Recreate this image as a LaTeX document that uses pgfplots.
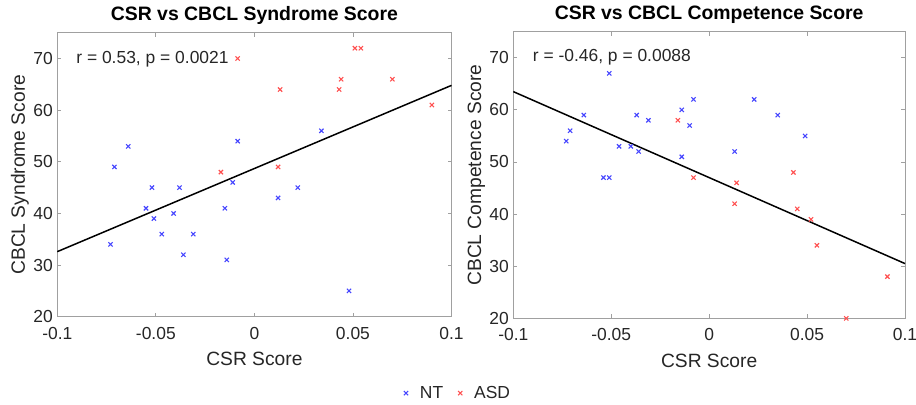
\documentclass[border=0pt]{standalone}
\usepackage{fontspec}
\setmainfont{Liberation Sans}
\usepackage{pgfplots}
\pgfplotsset{compat=1.18}
\definecolor{ntblue}{RGB}{70,70,255}
\definecolor{asdred}{RGB}{255,80,80}
\definecolor{axgray}{RGB}{160,160,160}
\definecolor{txt}{RGB}{38,38,38}
\pgfplotsset{
  csrpanel/.style={
    scale only axis, clip=false,
    xmin=-0.1, xmax=0.1, ymin=20, ymax=75,
    xtick={-0.1,-0.05,0,0.05,0.1},
    xticklabels={-0.1,-0.05,0,0.05,0.1},
    ytick={20,30,...,70},
    /pgf/number format/assume math mode=true,
    tick align=inside, major tick length=4bp,
    axis line style={color=axgray, line width=0.8bp},
    tick style={color=axgray, line width=0.8bp},
    tick label style={font=\fontsize{17.5}{20}\selectfont, color=txt},
    xticklabel style={yshift=-7bp},
    yticklabel style={xshift=-1bp},
    label style={font=\fontsize{19.3}{22}\selectfont, color=txt},
    xlabel={CSR Score},
    xlabel style={at={(axis description cs:0.5,0)}, anchor=base, yshift=-49bp},
    ylabel style={at={(axis description cs:-0.082,0.5)}, anchor=base, rotate=0},
    title style={font=\fontsize{19.5}{22}\selectfont\bfseries, at={(axis description cs:0.5,1)}, anchor=base, yshift=6bp},
  },
  nt/.style={only marks, mark=x, mark size=3bp, color=ntblue, line width=1.1bp},
  asd/.style={only marks, mark=x, mark size=3bp, color=asdred, line width=1.1bp},
  fitline/.style={black, line width=1.5bp, forget plot},
}
\begin{document}
\begin{tikzpicture}[x=1bp,y=1bp]
\path[use as bounding box] (0,0) rectangle (916,404);

% left panel
\begin{axis}[csrpanel, at={(57.3bp,87.3bp)}, anchor=south west,
  width=394.2bp, height=284bp,
  title={CSR vs CBCL Syndrome Score},
  ylabel={CBCL Syndrome Score},
  legend image code/.code={%
    \path[draw=none, fill=none] (-4bp,0bp) rectangle (12bp,0bp);
    \draw[#1] plot[only marks] coordinates {(0bp,0bp)};},
  legend style={draw=none, fill=none, legend columns=2,
    font=\fontsize{17.5}{20}\selectfont, text=txt,
    at={(axis description cs:1.014,-0.269)}, anchor=center,
    /tikz/every even column/.append style={column sep=11bp}},
]
\addplot[fitline] coordinates {(-0.1,32.6) (0.1,64.8)};
\addplot[nt] coordinates {
  (-0.064,53) (-0.071,49) (-0.0085,54) (0.034,56) (-0.011,46) (-0.052,45)
  (-0.038,45) (-0.055,41) (-0.041,40) (-0.015,41) (-0.051,39) (-0.047,36)
  (-0.031,36) (-0.073,34) (-0.036,32) (-0.014,31) (0.022,45) (0.012,43) (0.048,25)};
\addlegendentry{NT}
\addplot[asd] coordinates {
  (-0.0085,70) (-0.017,48) (0.051,72) (0.054,72) (0.044,66) (0.070,66)
  (0.013,64) (0.043,64) (0.090,61) (0.012,49)};
\addlegendentry{ASD}
\node[anchor=base west, font=\fontsize{17.5}{20}\selectfont, text=txt]
  at (axis cs:-0.0921,69.1) {r = 0.53, p = 0.0021};
\end{axis}

% right panel
\begin{axis}[csrpanel, at={(513.3bp,85.7bp)}, anchor=south west,
  width=391.7bp, height=286.6bp,
  title={CSR vs CBCL Competence Score},
  ylabel={CBCL Competence Score},
]
\addplot[fitline] coordinates {(-0.1,63.5) (0.1,30.5)};
\addplot[nt] coordinates {
  (-0.051,67) (-0.008,62) (-0.014,60) (-0.064,59) (-0.037,59) (-0.031,58)
  (-0.010,57) (-0.071,56) (-0.073,54) (-0.046,53) (-0.040,53) (-0.036,52)
  (-0.014,51) (-0.054,47) (-0.051,47) (0.023,62) (0.035,59) (0.049,55) (0.013,52)};
\addplot[asd] coordinates {
  (-0.016,58) (-0.008,47) (0.043,48) (0.014,46) (0.013,42) (0.045,41)
  (0.052,39) (0.055,34) (0.091,28) (0.070,20)};
\node[anchor=base west, font=\fontsize{17.5}{20}\selectfont, text=txt]
  at (axis cs:-0.0918,69.2) {r = -0.46, p = 0.0088};
\end{axis}
\end{tikzpicture}
\end{document}
